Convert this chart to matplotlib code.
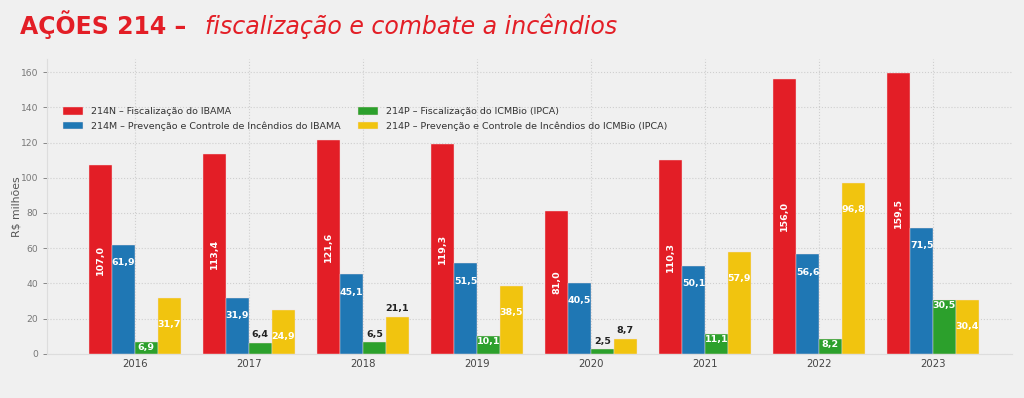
import matplotlib.pyplot as plt
import numpy as np

anos = ["2016", "2017", "2018", "2019", "2020", "2021", "2022", "2023"]
series = [
    "214N – Fiscalização do IBAMA",
    "214M – Prevenção e Controle de Incêndios do IBAMA",
    "214P – Fiscalização do ICMBio (IPCA)",
    "214P – Prevenção e Controle de Incêndios do ICMBio (IPCA)",
]
fiscal_ibama = [107.0, 113.4, 121.6, 119.3, 81.0, 110.3, 156.0, 159.5]
prev_ibama = [61.9, 31.9, 45.1, 51.5, 40.5, 50.1, 56.6, 71.5]
fiscal_icmbio = [6.9, 6.4, 6.5, 10.1, 2.5, 11.1, 8.2, 30.5]
prev_icmbio = [31.7, 24.9, 21.1, 38.5, 8.7, 57.9, 96.8, 30.4]

cores = ["#e31e26", "#1f77b4", "#2ca02c", "#f1c40f"]
valores = [fiscal_ibama, prev_ibama, fiscal_icmbio, prev_icmbio]
# label offset below bar top (points), and min height to keep label inside
offs = [None, -13, -4, -19]
limite = [0, 0, 6.6, 22]

fig = plt.figure(figsize=(10.24, 3.98), dpi=100, facecolor="#f0f0f0")
ax = fig.add_axes([0.046, 0.111, 0.942, 0.741], facecolor="#f0f0f0")

x = np.arange(len(anos))
w = 0.2
for i, (vals, cor) in enumerate(zip(valores, cores)):
    pos = x + (i - 1.5) * w
    ax.bar(pos, vals, w, color=cor, label=series[i], zorder=3,
           edgecolor="#f4dede", linewidth=0.3)
    for xp, v in zip(pos, vals):
        txt = f"{v:.1f}".replace(".", ",")
        if i == 0:
            ax.text(xp, v / 2, txt, rotation=90, ha="center", va="center",
                    color="white", fontsize=6.8, fontweight="bold", zorder=4)
        elif v >= limite[i]:
            ax.annotate(txt, (xp, v), xytext=(0, offs[i]), textcoords="offset points",
                        ha="center", va="center", color="white", fontsize=6.8,
                        fontweight="bold", zorder=4)
        else:
            ax.annotate(txt, (xp, v), xytext=(0, 2.5), textcoords="offset points",
                        ha="center", va="bottom", color="#222222", fontsize=6.8,
                        fontweight="bold", zorder=4)

ax.set_xticks(x)
ax.set_xticklabels(anos, fontsize=7.3, color="#444444")
ax.set_xlim(-0.77, 7.69)
ax.set_ylim(0, 167.5)
ax.set_yticks(np.arange(0, 161, 20))
ax.tick_params(axis="y", labelsize=6.6, colors="#777777", length=3, width=0.6)
ax.tick_params(axis="x", length=0, pad=4)
ax.set_ylabel("R$ milhões", fontsize=7.8, color="#555555", labelpad=-1)
ax.grid(True, linestyle=":", color="#cfcfcf", linewidth=0.8, zorder=0)
for s in ["top", "right"]:
    ax.spines[s].set_visible(False)
for s in ["left", "bottom"]:
    ax.spines[s].set_color("#dddddd")
    ax.spines[s].set_linewidth(0.8)

ax.legend(ncol=2, loc="upper left", bbox_to_anchor=(0.008, 0.865), frameon=False,
          fontsize=6.8, handlelength=2.1, handleheight=0.8, columnspacing=1.9,
          labelspacing=0.55, labelcolor="#333333")

fig.text(0.02, 0.915, "AÇÕES 214 –", fontsize=17, fontweight="bold", color="#e31e26")
fig.text(0.2, 0.915, "fiscalização e combate a incêndios", fontsize=17,
         style="italic", color="#e31e26")

fig.savefig("out.png", dpi=100, facecolor=fig.get_facecolor())
